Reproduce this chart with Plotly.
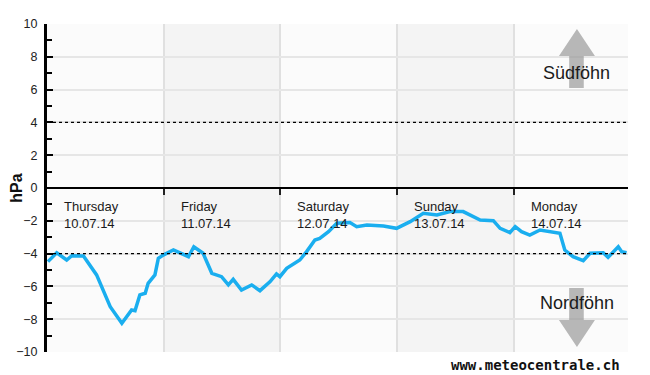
import plotly.graph_objects as go

# ---- data ----
hours = [0.2, 2.0, 4.05, 5.1, 7.5, 10.2, 13.0, 14.0, 15.4, 17.4, 18.1, 19.1, 20.2, 20.8,
         22.2, 22.9, 23.9, 26.0, 27.4, 29.1, 30.2, 32.1, 33.9, 35.9, 37.3, 38.3, 40.0,
         42.1, 43.8, 45.9, 47.2, 47.9, 49.3, 52.0, 53.4, 55.1, 56.1, 57.9, 59.6, 62.3,
         63.7, 65.8, 69.2, 71.9, 74.7, 77.4, 80.2, 82.9, 85.6, 87.0, 89.1, 91.8, 93.2,
         95.2, 96.3, 97.6, 99.3, 101.4, 104.1, 105.5, 106.5, 108.2, 110.3, 111.7, 114.4,
         115.4, 117.5, 118.2, 119.2]
pressure = [-4.49, -3.95, -4.39, -4.13, -4.15, -5.3, -7.24, -7.64, -8.25, -7.44, -7.48,
            -6.52, -6.42, -5.81, -5.3, -4.29, -4.09, -3.78, -3.95, -4.19, -3.58, -3.98,
            -5.2, -5.41, -5.91, -5.57, -6.22, -5.91, -6.26, -5.71, -5.24, -5.41, -4.9,
            -4.39, -3.88, -3.17, -3.07, -2.66, -2.15, -2.11, -2.36, -2.26, -2.32, -2.46,
            -2.05, -1.54, -1.65, -1.44, -1.44, -1.65, -1.95, -1.99, -2.46, -2.72, -2.36,
            -2.66, -2.87, -2.56, -2.66, -2.76, -3.78, -4.19, -4.43, -3.98, -3.95, -4.23,
            -3.58, -3.88, -3.95]
day_names = ["Thursday", "Friday", "Saturday", "Sunday", "Monday"]
day_dates = ["10.07.14", "11.07.14", "12.07.14", "13.07.14", "14.07.14"]
day_starts = [0, 24, 48, 72, 96]
threshold = 4
y_ticks = [-10, -8, -6, -4, -2, 0, 2, 4, 6, 8, 10]

FONT = "Liberation Sans, Arial, sans-serif"
X_END = 119.5

fig = go.Figure()
fig.add_trace(go.Scatter(x=hours, y=pressure, mode="lines",
                         line=dict(color="#1aaeef", width=3.5), hoverinfo="skip",
                         showlegend=False))

shapes = []
# alternating day bands
for i, s in enumerate(day_starts):
    if i % 2 == 1:
        shapes.append(dict(type="rect", xref="x", yref="paper", x0=s, x1=s + 24,
                           y0=0, y1=1, fillcolor="#f4f4f4", line_width=0, layer="below"))
# dotted threshold lines
for t in (threshold, -threshold):
    shapes.append(dict(type="line", xref="paper", yref="y", x0=0, x1=1, y0=t, y1=t,
                       line=dict(color="black", width=1.3, dash="dot"), layer="above"))
# Südföhn arrow (up)
shapes.append(dict(type="path", xref="x", yref="y",
                   path="M 107.4 6.1 L 110.4 6.1 L 110.4 8.05 L 112.7 8.05 L 109 9.7 "
                        "L 105.3 8.05 L 107.4 8.05 Z",
                   fillcolor="rgba(150,150,150,0.68)", line_width=0, layer="above"))
# Nordföhn arrow (down)
shapes.append(dict(type="path", xref="x", yref="y",
                   path="M 107.4 -6.1 L 110.4 -6.1 L 110.4 -8.05 L 112.7 -8.05 L 109 -9.7 "
                        "L 105.3 -8.05 L 107.4 -8.05 Z",
                   fillcolor="rgba(150,150,150,0.68)", line_width=0, layer="above"))

annotations = []
for s, n, d in zip(day_starts, day_names, day_dates):
    annotations.append(dict(x=s, y=0, xref="x", yref="y", text=f"{n}<br>{d}",
                            showarrow=False, xanchor="left", yanchor="top", align="left",
                            xshift=15, yshift=-9,
                            font=dict(family=FONT, size=13, color="#1a1a1a")))
annotations.append(dict(x=109, y=7.0, xref="x", yref="y", text="Südföhn", showarrow=False,
                        font=dict(family=FONT, size=18, color="#1a1a1a")))
annotations.append(dict(x=109, y=-7.0, xref="x", yref="y", text="Nordföhn", showarrow=False,
                        font=dict(family=FONT, size=18, color="#1a1a1a")))
annotations.append(dict(x=0.99, y=-0.04, xref="paper", yref="paper",
                        text="<b>www.meteocentrale.ch</b>", showarrow=False,
                        xanchor="right", yanchor="middle",
                        font=dict(family="DejaVu Sans Mono, monospace", size=14,
                                  color="#111")))

# the page body has an 8px default margin, so the figure is sized/offset for it
fig.update_layout(
    width=642, height=367,
    margin=dict(l=39, r=22, t=16, b=23, autoexpand=False),
    paper_bgcolor="white", plot_bgcolor="#fbfbfb",
    shapes=shapes, annotations=annotations,
    xaxis=dict(range=[0, X_END], tickvals=day_starts[1:], showticklabels=False,
               ticks="outside", ticklen=6, tickwidth=2, tickcolor="#222",
               showline=True, linecolor="black", linewidth=2,
               anchor="free", position=0.5, showgrid=True, automargin=False,
               gridcolor="#e0e0e0", gridwidth=2, zeroline=False, fixedrange=True),
    yaxis=dict(range=[-10, 10], tickvals=y_ticks,
               ticktext=[str(v).replace("-", "−") for v in y_ticks],
               ticks="inside", ticklen=6, tickwidth=2, tickcolor="black",
               minor=dict(ticks="inside", ticklen=5, tickwidth=2, tickcolor="black",
                          dtick=2, tick0=1, showgrid=False),
               showline=True, linecolor="black", linewidth=3, automargin=False,
               showgrid=True, gridcolor="#e6e6e6", gridwidth=1.5, zeroline=False,
               tickfont=dict(family=FONT, size=12.5, color="#222"),
               ticklabelstandoff=4,
               title=dict(text="<b>hPa</b>", standoff=4,
                          font=dict(family=FONT, size=16, color="#111")),
               fixedrange=True),
)

fig.write_html("out.html")
